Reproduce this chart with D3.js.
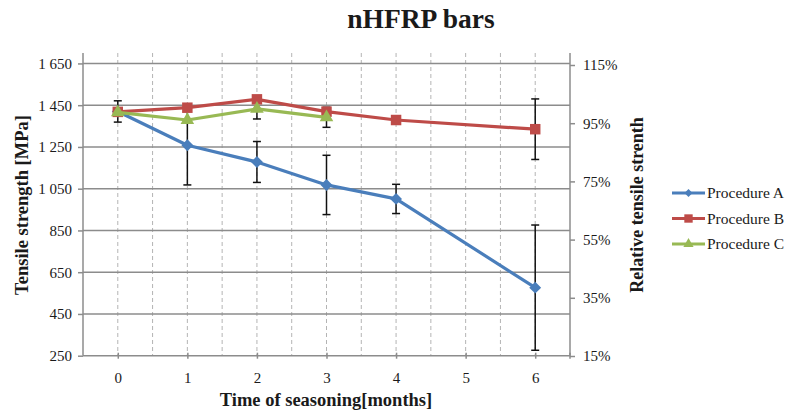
<!DOCTYPE html>
<html>
<head>
<meta charset="utf-8">
<script src="https://cdn.jsdelivr.net/npm/d3@7/dist/d3.min.js"></script>
<style>
  html, body { margin: 0; padding: 0; background: #fff; }
  svg { display: block; }
  text { font-family: "Liberation Serif", "Times New Roman", Tinos, "Noto Serif", "DejaVu Serif", serif; fill: #1a1a1a; }
</style>
</head>
<body>
<svg id="chart" width="793" height="417"></svg>
<script>
// ---------- data ----------
const months = [0, 1, 2, 3, 4, 5, 6];
const seriesNames = ["Procedure A", "Procedure B", "Procedure C"];
const procA = [1420, 1258, 1178, 1068, 1001, null, 576];
const procAErr = [51, 190, 98, 142, 70, null, 300];
const procB = [1418, 1438, 1478, 1419, 1379, null, 1335];
const procBErr = [null, null, null, null, null, null, 145];
const procC = [1416, 1379, 1432, 1392, null, null, null];
const procCErr = [null, null, 48, 48, null, null, null];
const leftTicks = [250, 450, 650, 850, 1050, 1250, 1450, 1650];
const rightTicks = [15, 35, 55, 75, 95, 115];

const colors = ["#4A7EBB", "#BE4B48", "#98B954"];
const symbols = [d3.symbolDiamond2, d3.symbolSquare, d3.symbolTriangle];
const FONT = '"Liberation Serif", "Times New Roman", Tinos, "Noto Serif", "DejaVu Serif", serif';

const series = [
  { name: seriesNames[0], values: procA, err: procAErr, color: colors[0], symbol: symbols[0], size: 90, lsize: 40 },
  { name: seriesNames[1], values: procB, err: procBErr, color: colors[1], symbol: symbols[1], size: 110, lsize: 70 },
  { name: seriesNames[2], values: procC, err: procCErr, color: colors[2], symbol: symbols[2], size: 80, lsize: 45 }
];

// ---------- layout ----------
const svg = d3.select("#chart");
const L = 83, R = 570, T = 53, B = 355.7;

const x = d3.scaleLinear().domain([-0.5, 6.5]).range([L, R]);
const y = d3.scaleLinear().domain([250, 1700]).range([B, T]);
const y2 = d3.scaleLinear().domain([15, 115]).range([356, 65]);

const fmt = d3.formatLocale({ decimal: ".", thousands: " ", grouping: [3], currency: ["", ""] }).format(",d");

// vertical dashed gridlines
const vgrid = d3.range(0, 6.01, 0.5);
svg.append("g").selectAll("line").data(vgrid).join("line")
  .attr("x1", d => x(d)).attr("x2", d => x(d))
  .attr("y1", T).attr("y2", B)
  .attr("stroke", "#b4b4b4").attr("stroke-width", 1)
  .attr("stroke-dasharray", "4,3");

// horizontal gridlines
svg.append("g").selectAll("line").data(leftTicks.slice(1)).join("line")
  .attr("x1", L).attr("x2", R)
  .attr("y1", d => y(d)).attr("y2", d => y(d))
  .attr("stroke", "#8c8c8c").attr("stroke-width", 1.5);

function styleAxis(g) {
  g.attr("font-family", null).attr("font-size", null);
  g.select(".domain").attr("stroke", "#8c8c8c").attr("stroke-width", 1.5);
  g.selectAll(".tick line").attr("stroke", "#8c8c8c").attr("stroke-width", 1.5);
  g.selectAll(".tick text").style("font-family", FONT).style("font-size", "15px").attr("fill", "#1a1a1a");
}

// left axis
const leftAxis = d3.axisLeft(y).tickValues(leftTicks).tickFormat(fmt).tickSize(5).tickPadding(6);
const gL = svg.append("g").attr("transform", `translate(${L},0)`).call(leftAxis).call(styleAxis);
gL.select(".domain").attr("d", `M0,${T}V${B}`);

// right axis
const rightAxis = d3.axisRight(y2).tickValues(rightTicks).tickFormat(d => d + "%").tickSize(5).tickPadding(8);
const gR = svg.append("g").attr("transform", `translate(${R},0)`).call(rightAxis).call(styleAxis);
gR.select(".domain").attr("d", `M0,${T}V${B}`);

// bottom axis
const bottomAxis = d3.axisBottom(x).tickValues(months).tickFormat(d3.format("d")).tickSize(3).tickPadding(14);
const gB = svg.append("g").attr("transform", `translate(0,${B})`).call(bottomAxis).call(styleAxis);
gB.select(".domain").attr("d", `M${L},0H${R}`);
gB.selectAll(".tick line").attr("y1", -3);
gB.append("g").selectAll("line").data([6.5]).join("line")
  .attr("x1", d => x(d)).attr("x2", d => x(d)).attr("y1", -3).attr("y2", 3)
  .attr("stroke", "#8c8c8c").attr("stroke-width", 1.5);

// error bars (drawn underneath)
const gErr = svg.append("g");
series.forEach(s => {
  const pts = months.map((m, i) => ({ m, v: s.values[i], e: s.err[i] })).filter(p => p.v != null && p.e != null);
  const g = gErr.append("g").selectAll("g").data(pts).join("g");
  g.append("line")
    .attr("x1", p => x(p.m)).attr("x2", p => x(p.m))
    .attr("y1", p => y(p.v + p.e)).attr("y2", p => y(p.v - p.e))
    .attr("stroke", "#111").attr("stroke-width", 1.5);
  [1, -1].forEach(sg => {
    g.append("line")
      .attr("x1", p => x(p.m) - 4).attr("x2", p => x(p.m) + 4)
      .attr("y1", p => y(p.v + sg * p.e)).attr("y2", p => y(p.v + sg * p.e))
      .attr("stroke", "#111").attr("stroke-width", 1.5);
  });
});

// lines and markers
const lineGen = d3.line().x(p => x(p.m)).y(p => y(p.v));
series.forEach(s => {
  const pts = months.map((m, i) => ({ m, v: s.values[i] })).filter(p => p.v != null);
  svg.append("path").datum(pts)
    .attr("d", lineGen)
    .attr("fill", "none").attr("stroke", s.color).attr("stroke-width", 3.2)
    .attr("stroke-linejoin", "round");
  svg.append("g").selectAll("path").data(pts).join("path")
    .attr("transform", p => `translate(${x(p.m)},${y(p.v)})`)
    .attr("d", d3.symbol().type(s.symbol).size(s.size))
    .attr("fill", s.color);
});

// title
svg.append("text").attr("x", 421).attr("y", 28).attr("text-anchor", "middle")
  .style("font-family", FONT).style("font-size", "27.5px").style("font-weight", "bold").text("nHFRP bars");

// axis titles
svg.append("text").attr("x", 326).attr("y", 406).attr("text-anchor", "middle")
  .style("font-family", FONT).style("font-size", "18.5px").style("font-weight", "bold").text("Time of seasoning[months]");
svg.append("text").attr("transform", "translate(28,205) rotate(-90)").attr("text-anchor", "middle")
  .style("font-family", FONT).style("font-size", "18.5px").style("font-weight", "bold").text("Tensile strength [MPa]");
svg.append("text").attr("transform", "translate(643,205) rotate(-90)").attr("text-anchor", "middle")
  .style("font-family", FONT).style("font-size", "18px").style("font-weight", "bold").text("Relative tensile strenth");

// legend
const legend = svg.append("g").selectAll("g").data(series).join("g")
  .attr("transform", (d, i) => `translate(672,${193 + i * 25.5})`);
legend.append("line").attr("x1", 0).attr("x2", 33).attr("y1", 0).attr("y2", 0)
  .attr("stroke", d => d.color).attr("stroke-width", 3);
legend.append("path").attr("transform", "translate(16.5,0)")
  .attr("d", d => d3.symbol().type(d.symbol).size(d.lsize)())
  .attr("fill", d => d.color);
legend.append("text").attr("x", 35).attr("y", 5)
  .style("font-family", FONT).style("font-size", "15.5px").text(d => d.name);
</script>
</body>
</html>
